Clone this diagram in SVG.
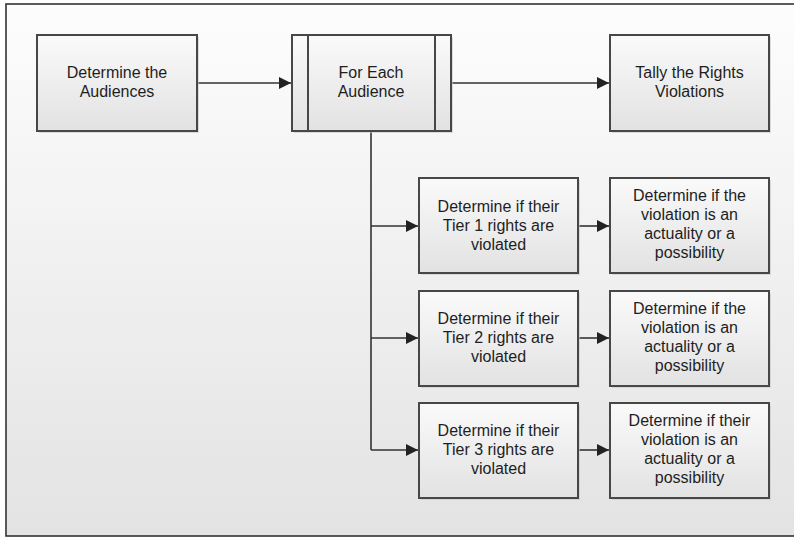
<svg xmlns="http://www.w3.org/2000/svg" width="794" height="538" viewBox="0 0 794 538">
  <style>
    .box { fill: url(#boxFill); stroke: #474747; stroke-width: 2; }
    .shadow { fill: #c8c8c8; opacity: 0.6; }
    .bar { stroke: #474747; stroke-width: 2; fill: none; }
    .label { font-family: "Liberation Sans", Arial, sans-serif; font-size: 16px; fill: #1e1e1e; text-anchor: middle; }
    .conn { stroke: #333; stroke-width: 1.6; fill: none; marker-end: url(#arrow); }
    .trunk { stroke: #333; stroke-width: 1.6; fill: none; }
  </style>
  <defs>
    <linearGradient id="bgFill" x1="0" y1="0" x2="0" y2="1">
      <stop offset="0" stop-color="#fdfdfd"/>
      <stop offset="1" stop-color="#e3e3e3"/>
    </linearGradient>
    <linearGradient id="boxFill" x1="0" y1="0" x2="0" y2="1">
      <stop offset="0" stop-color="#fafafa"/>
      <stop offset="1" stop-color="#e2e2e2"/>
    </linearGradient>
    <marker id="arrow" viewBox="0 0 10 10" refX="10" refY="5" markerWidth="12" markerHeight="12" markerUnits="userSpaceOnUse" orient="auto">
      <path d="M0,0 L10,5 L0,10 Z" fill="#222"/>
    </marker>
  </defs>

  <!-- canvas frame -->
  <rect x="6" y="4" width="800" height="532" fill="url(#bgFill)" stroke="#333" stroke-width="1.6"/>

  <!-- connectors -->
  <g id="connectors">
    <line class="conn" x1="197" y1="83" x2="291" y2="83"/>
    <line class="conn" x1="451" y1="83" x2="609" y2="83"/>
    <line class="trunk" x1="371" y1="131" x2="371" y2="450"/>
    <line class="conn" x1="371" y1="226" x2="418" y2="226"/>
    <line class="conn" x1="371" y1="338" x2="418" y2="338"/>
    <line class="conn" x1="371" y1="450" x2="418" y2="450"/>
    <line class="conn" x1="578" y1="226" x2="609" y2="226"/>
    <line class="conn" x1="578" y1="338" x2="609" y2="338"/>
    <line class="conn" x1="578" y1="450" x2="609" y2="450"/>
  </g>

  <g id="determine-audiences">
    <rect class="shadow" x="39" y="37" width="160" height="96"/>
    <rect class="box" x="37" y="35" width="160" height="96"/>
    <text class="label" x="117" y="78">Determine the</text>
    <text class="label" x="117" y="97">Audiences</text>
  </g>

  <g id="for-each-audience">
    <rect class="shadow" x="294" y="37" width="159" height="96"/>
    <rect class="box" x="292" y="35" width="159" height="96"/>
    <line class="bar" x1="308" y1="35" x2="308" y2="131"/>
    <line class="bar" x1="435" y1="35" x2="435" y2="131"/>
    <text class="label" x="371" y="78">For Each</text>
    <text class="label" x="371" y="97">Audience</text>
  </g>

  <g id="tally-violations">
    <rect class="shadow" x="612" y="37" width="159" height="96"/>
    <rect class="box" x="610" y="35" width="159" height="96"/>
    <text class="label" x="689.5" y="78">Tally the Rights</text>
    <text class="label" x="689.5" y="97">Violations</text>
  </g>

  <g id="tier1">
    <rect class="shadow" x="421" y="180" width="159" height="95"/>
    <rect class="box" x="419" y="178" width="159" height="95"/>
    <text class="label" x="498.5" y="212">Determine if their</text>
    <text class="label" x="498.5" y="231">Tier 1 rights are</text>
    <text class="label" x="498.5" y="250">violated</text>
  </g>

  <g id="tier1-nature">
    <rect class="shadow" x="612" y="180" width="159" height="95"/>
    <rect class="box" x="610" y="178" width="159" height="95"/>
    <text class="label" x="689.5" y="201">Determine if the</text>
    <text class="label" x="689.5" y="220">violation is an</text>
    <text class="label" x="689.5" y="239">actuality or a</text>
    <text class="label" x="689.5" y="258">possibility</text>
  </g>

  <g id="tier2">
    <rect class="shadow" x="421" y="293" width="159" height="95"/>
    <rect class="box" x="419" y="291" width="159" height="95"/>
    <text class="label" x="498.5" y="324">Determine if their</text>
    <text class="label" x="498.5" y="343">Tier 2 rights are</text>
    <text class="label" x="498.5" y="362">violated</text>
  </g>

  <g id="tier2-nature">
    <rect class="shadow" x="612" y="293" width="159" height="95"/>
    <rect class="box" x="610" y="291" width="159" height="95"/>
    <text class="label" x="689.5" y="314">Determine if the</text>
    <text class="label" x="689.5" y="333">violation is an</text>
    <text class="label" x="689.5" y="352">actuality or a</text>
    <text class="label" x="689.5" y="371">possibility</text>
  </g>

  <g id="tier3">
    <rect class="shadow" x="421" y="405" width="159" height="95"/>
    <rect class="box" x="419" y="403" width="159" height="95"/>
    <text class="label" x="498.5" y="436">Determine if their</text>
    <text class="label" x="498.5" y="455">Tier 3 rights are</text>
    <text class="label" x="498.5" y="474">violated</text>
  </g>

  <g id="tier3-nature">
    <rect class="shadow" x="612" y="405" width="159" height="95"/>
    <rect class="box" x="610" y="403" width="159" height="95"/>
    <text class="label" x="689.5" y="426">Determine if their</text>
    <text class="label" x="689.5" y="445">violation is an</text>
    <text class="label" x="689.5" y="464">actuality or a</text>
    <text class="label" x="689.5" y="483">possibility</text>
  </g>
</svg>
